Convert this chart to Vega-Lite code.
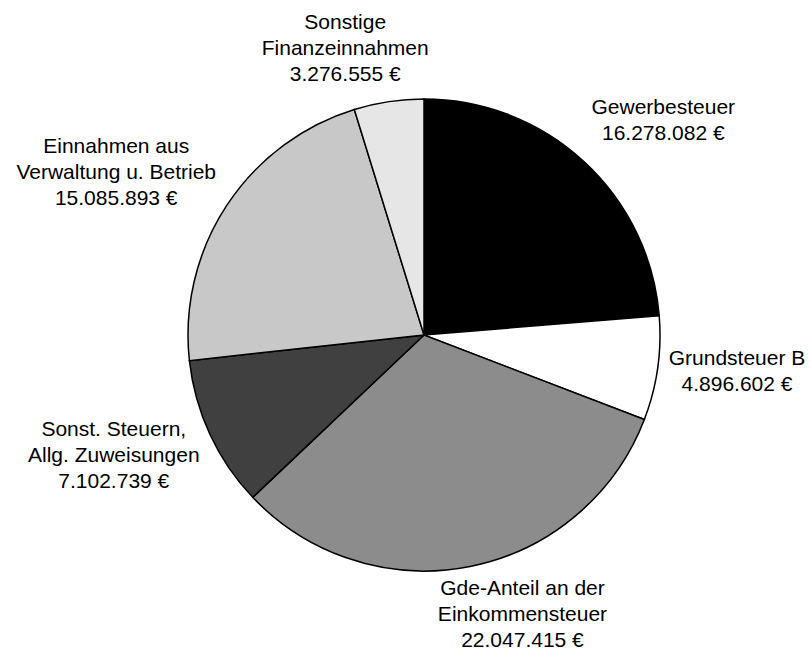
{
  "$schema": "https://vega.github.io/schema/vega-lite/v6.json",
  "width": 772,
  "height": 634,
  "autosize": "none",
  "padding": {"left": 38, "top": 18, "right": 0, "bottom": 0},
  "background": "white",
  "config": {"view": {"stroke": null}},
  "data": {
    "values": [
      {"ord": 1, "cat": "Gewerbesteuer", "value": 16278082, "label": "Gewerbesteuer\n16.278.082 €"},
      {"ord": 2, "cat": "Grundsteuer B", "value": 4896602, "label": "Grundsteuer B\n4.896.602 €"},
      {"ord": 3, "cat": "Gde-Anteil", "value": 22047415, "label": "Gde-Anteil an der\nEinkommensteuer\n22.047.415 €"},
      {"ord": 4, "cat": "Sonst. Steuern", "value": 7102739, "label": "Sonst. Steuern,\nAllg. Zuweisungen\n7.102.739 €"},
      {"ord": 5, "cat": "Einnahmen", "value": 15085893, "label": "Einnahmen aus\nVerwaltung u. Betrieb\n15.085.893 €"},
      {"ord": 6, "cat": "Sonstige", "value": 3276555, "label": "Sonstige\nFinanzeinnahmen\n3.276.555 €"}
    ]
  },
  "encoding": {
    "theta": {"field": "value", "type": "quantitative", "stack": true},
    "order": {"field": "ord", "type": "quantitative"}
  },
  "layer": [
    {
      "mark": {"type": "arc", "radius": 236, "stroke": "black", "strokeWidth": 1.5},
      "encoding": {
        "color": {
          "field": "cat",
          "type": "nominal",
          "legend": null,
          "scale": {
            "domain": ["Gewerbesteuer", "Grundsteuer B", "Gde-Anteil", "Sonst. Steuern", "Einnahmen", "Sonstige"],
            "range": ["#000000", "#ffffff", "#8c8c8c", "#404040", "#c8c8c8", "#e6e6e6"]
          }
        }
      }
    },
    {
      "mark": {"type": "text", "radius": 300, "dx": 36, "dy": -6, "font": "Liberation Sans", "fontSize": 21, "lineHeight": 26, "lineBreak": "\n", "align": "center", "baseline": "middle", "color": "black"},
      "encoding": {"text": {"condition": {"test": "datum.cat === 'Gewerbesteuer'", "field": "label"}, "value": ""}}
    },
    {
      "mark": {"type": "text", "radius": 300, "dx": 16, "dy": -19, "font": "Liberation Sans", "fontSize": 21, "lineHeight": 26, "lineBreak": "\n", "align": "center", "baseline": "middle", "color": "black"},
      "encoding": {"text": {"condition": {"test": "datum.cat === 'Grundsteuer B'", "field": "label"}, "value": ""}}
    },
    {
      "mark": {"type": "text", "radius": 300, "dx": 40, "dy": -40, "font": "Liberation Sans", "fontSize": 21, "lineHeight": 26, "lineBreak": "\n", "align": "center", "baseline": "middle", "color": "black"},
      "encoding": {"text": {"condition": {"test": "datum.cat === 'Gde-Anteil'", "field": "label"}, "value": ""}}
    },
    {
      "mark": {"type": "text", "radius": 300, "dx": -38, "dy": -31, "font": "Liberation Sans", "fontSize": 21, "lineHeight": 26, "lineBreak": "\n", "align": "center", "baseline": "middle", "color": "black"},
      "encoding": {"text": {"condition": {"test": "datum.cat === 'Sonst. Steuern'", "field": "label"}, "value": ""}}
    },
    {
      "mark": {"type": "text", "radius": 300, "dx": -57, "dy": -23, "font": "Liberation Sans", "fontSize": 21, "lineHeight": 26, "lineBreak": "\n", "align": "center", "baseline": "middle", "color": "black"},
      "encoding": {"text": {"condition": {"test": "datum.cat === 'Einnahmen'", "field": "label"}, "value": ""}}
    },
    {
      "mark": {"type": "text", "radius": 300, "dx": -34, "dy": -15, "font": "Liberation Sans", "fontSize": 21, "lineHeight": 26, "lineBreak": "\n", "align": "center", "baseline": "middle", "color": "black"},
      "encoding": {"text": {"condition": {"test": "datum.cat === 'Sonstige'", "field": "label"}, "value": ""}}
    }
  ]
}
